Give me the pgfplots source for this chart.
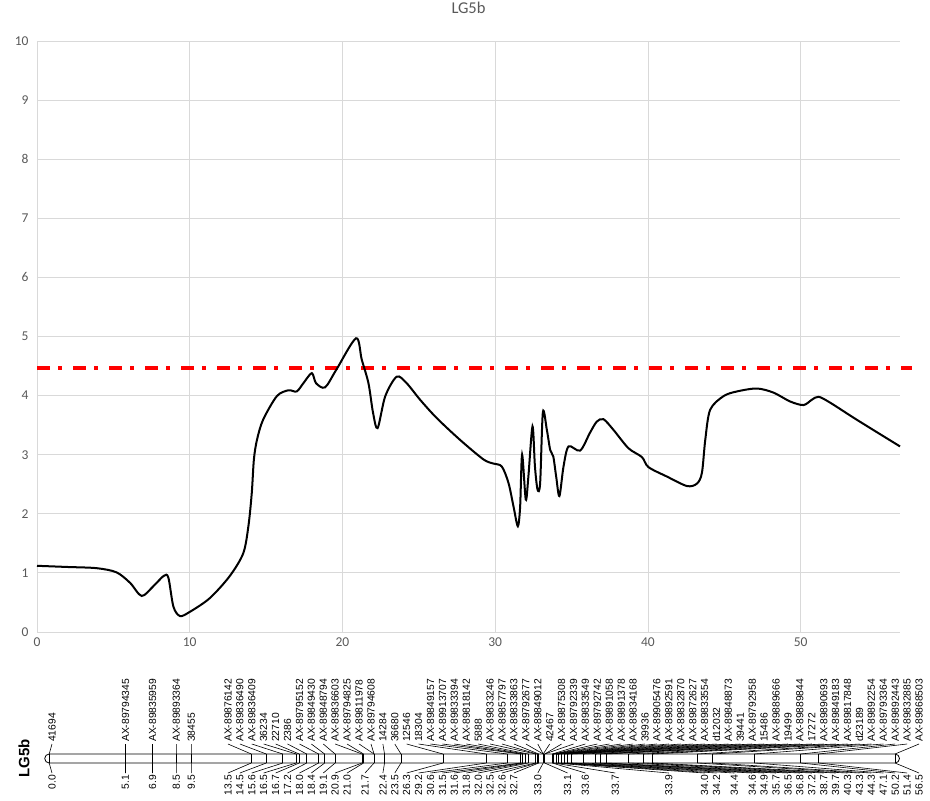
\documentclass[border=0pt]{standalone}
\usepackage{pgfplots}
\pgfplotsset{compat=1.18}
\usepackage{pgfplotstable}
\usepackage{fontspec}
\setmainfont{Carlito}
\newfontfamily\arialf{Liberation Sans}
\definecolor{gridgray}{RGB}{217,217,217}
\definecolor{tickgray}{RGB}{89,89,89}

\pgfplotstableread{
x y
0 1.12
2 1.10
3.9 1.08
5.2 1.01
6.1 0.83
6.85 0.61
7.6 0.77
8.3 0.95
8.6 0.92
8.93 0.43
9.36 0.27
10.0 0.34
11.3 0.57
12.6 0.94
13.5 1.33
13.84 1.79
14.06 2.35
14.2 2.92
14.4 3.25
14.8 3.59
15.7 3.99
16.46 4.09
17.0 4.07
17.44 4.21
17.99 4.38
18.27 4.21
18.86 4.14
19.6 4.44
20.89 4.97
21.26 4.61
21.7 4.21
22.0 3.71
22.3 3.45
22.8 3.99
23.55 4.32
24.2 4.21
25.08 3.93
26.17 3.62
27.7 3.25
29.23 2.92
29.88 2.85
30.43 2.80
30.87 2.52
31.2 2.12
31.48 1.79
31.63 2.12
31.76 3.00
32.0 2.24
32.17 2.63
32.44 3.48
32.6 2.80
32.77 2.41
32.94 2.52
33.12 3.72
33.38 3.42
33.6 3.08
33.8 2.97
33.99 2.63
34.2 2.30
34.47 2.80
34.8 3.14
35.56 3.07
36.2 3.37
36.65 3.56
37.09 3.60
37.74 3.42
38.72 3.11
39.6 2.96
40.03 2.79
41.24 2.63
42.55 2.47
43.2 2.51
43.53 2.69
43.75 3.25
44.07 3.76
44.94 3.99
45.82 4.07
47.13 4.12
48.22 4.05
49.31 3.90
50.18 3.84
50.73 3.93
51.17 3.98
51.93 3.88
53.68 3.59
56.5 3.14
}\lodtable

\pgfplotstableread{
name p lx
41694 0.0 52
AX-89794345 5.1 125.5
AX-89835959 6.9 152.5
AX-89893364 8.5 176.4
38455 9.5 191.4
AX-89876142 13.5 228.0
AX-89836490 14.5 239.9
AX-89836409 15.6 251.8
36234 16.5 263.7
22710 16.7 275.7
2386 17.2 287.6
AX-89795152 18.0 299.5
AX-89849430 18.4 311.4
AX-89848794 19.1 323.3
AX-89836603 20.9 335.2
AX-89794825 21.0 347.1
AX-89811978 21.7 359.1
AX-89794608 21.7 371.0
14284 22.4 382.9
36680 23.5 394.8
12546 26.3 406.7
18304 29.2 418.6
AX-89849157 30.6 430.5
AX-89913707 31.5 442.5
AX-89833394 31.6 454.4
AX-89818142 31.8 466.3
5888 32.0 478.2
AX-89833246 32.5 490.1
AX-89857797 32.6 502.0
AX-89833863 32.7 513.9
AX-89792677 33.0 525.9
AX-89849012 33.0 537.8
42467 33.0 549.7
AX-89875308 33.1 561.6
AX-89792339 33.1 573.5
AX-89833549 33.6 585.4
AX-89792742 33.7 597.3
AX-89891058 33.7 609.3
AX-89891378 33.7 621.2
AX-89834168 33.7 633.1
39936 33.9 645.0
AX-89905476 33.9 656.9
AX-89892591 33.9 668.8
AX-89832870 33.9 680.7
AX-89872627 33.9 692.7
AX-89833554 34.0 704.6
d12032 34.2 716.5
AX-89848873 34.4 728.4
39441 34.4 740.3
AX-89792958 34.6 752.2
15486 34.9 764.1
AX-89889666 35.7 776.1
19499 36.5 788.0
AX-89889844 36.8 799.9
17272 37.2 811.8
AX-89890693 38.7 823.7
AX-89849183 39.7 835.6
AX-89817848 40.3 847.5
d23189 43.3 859.5
AX-89892254 44.3 871.4
AX-89793364 47.1 883.3
AX-89892443 50.2 895.2
AX-89832885 51.4 907.1
AX-89868503 56.5 919.0
}\markers

\pgfplotstableread{
lab p lx
0.0 0.0 52
5.1 5.1 125.5
6.9 6.9 152.5
8.5 8.5 176.4
9.5 9.5 191.4
13.5 13.5 228.0
14.5 14.5 239.9
15.6 15.6 251.8
16.5 16.5 263.7
16.7 16.7 275.7
17.2 17.2 287.6
18.0 18.0 299.5
18.4 18.4 311.4
19.1 19.1 323.3
20.9 20.9 335.2
21.0 21.0 347.1
21.7 21.7 365.0
22.4 22.4 382.9
23.5 23.5 394.8
26.3 26.3 406.7
29.2 29.2 418.6
30.6 30.6 430.5
31.5 31.5 442.5
31.6 31.6 454.4
31.8 31.8 466.3
32.0 32.0 478.2
32.5 32.5 490.1
32.6 32.6 502.0
32.7 32.7 513.9
33.0 33.0 537.8
33.1 33.1 567.6
33.6 33.6 585.4
33.7 33.7 615.2
33.9 33.9 668.8
34.0 34.0 704.6
34.2 34.2 716.5
34.4 34.4 734.4
34.6 34.6 752.2
34.9 34.9 764.1
35.7 35.7 776.1
36.5 36.5 788.0
36.8 36.8 799.9
37.2 37.2 811.8
38.7 38.7 823.7
39.7 39.7 835.6
40.3 40.3 847.5
43.3 43.3 859.5
44.3 44.3 871.4
47.1 47.1 883.3
50.2 50.2 895.2
51.4 51.4 907.1
56.5 56.5 919.0
}\positions

\begin{document}
\begin{tikzpicture}
\useasboundingbox (0,0) rectangle (930pt,801pt);
% LOD profile
\begin{axis}[
  at={(37pt,169pt)}, anchor=south west,
  scale only axis, width=863pt, height=591pt,
  xmin=0, xmax=56.5, ymin=0, ymax=10,
  xtick={0,10,...,50}, ytick={0,1,...,10},
  grid=major, grid style={gridgray, line width=0.9pt},
  axis line style={draw=none},
  major tick length=0pt,
  tick label style={font=\fontsize{13.5}{14}\selectfont, text=tickgray},
  /pgf/number format/assume math mode=true,
  yticklabel style={xshift=-5pt},
  xticklabel style={yshift=-2pt},
  title={LG5b},
  title style={at={(0.5,1)}, anchor=base, yshift=21pt,
    font=\fontsize{16.5}{17}\selectfont, text=tickgray},
  clip=false,
]
\addplot[red, line width=3.5pt, dash pattern=on 13pt off 8pt on 4pt off 11pt]
  coordinates {(0,4.47) (57.3,4.47)};
\addplot[black, line width=2pt, smooth, tension=0.5] table {\lodtable};
\end{axis}
% linkage map
\begin{axis}[
  at={(0pt,0pt)}, anchor=south west,
  scale only axis, width=930pt, height=801pt,
  xmin=0, xmax=930, ymin=0, ymax=801, y dir=reverse,
  hide axis, clip=false,
]
\draw[black, line width=0.8pt, rounded corners=4.5pt]
  (axis cs:44.7,754) rectangle (axis cs:899.5,763);
\addplot[black, line width=0.6pt, quiver={u=0, v=9}]
  table[x expr=49.2+14.97*\thisrow{p}, y expr=754] {\positions};
\addplot[black, line width=0.6pt,
  quiver={u=\thisrow{lx}-49.2-14.97*\thisrow{p}, v=-10}]
  table[x expr=49.2+14.97*\thisrow{p}, y expr=754] {\markers};
\addplot[black, line width=0.6pt,
  quiver={u=\thisrow{lx}-49.2-14.97*\thisrow{p}, v=10}]
  table[x expr=49.2+14.97*\thisrow{p}, y expr=763] {\positions};
\addplot[only marks, mark=*, mark size=0pt,
  mark options={draw opacity=0, fill opacity=0},
  nodes near coords, point meta=explicit symbolic,
  every node near coord/.append style={rotate=90, anchor=west, inner sep=0pt,
    font=\arialf\fontsize{10.3}{11}\selectfont, text=black, opacity=1}]
  table[x=lx, y expr=742, meta=name] {\markers};
\addplot[only marks, mark=*, mark size=0pt,
  mark options={draw opacity=0, fill opacity=0},
  nodes near coords, point meta=explicit symbolic,
  every node near coord/.append style={rotate=90, anchor=east, inner sep=0pt,
    font=\arialf\fontsize{10.3}{11}\selectfont, text=black, opacity=1}]
  table[x=lx, y expr=775, meta=lab] {\positions};
\node[rotate=90, font=\arialf\bfseries\fontsize{15}{15}\selectfont]
  at (axis cs:24,758) {LG5b};
\end{axis}
\end{tikzpicture}
\end{document}
